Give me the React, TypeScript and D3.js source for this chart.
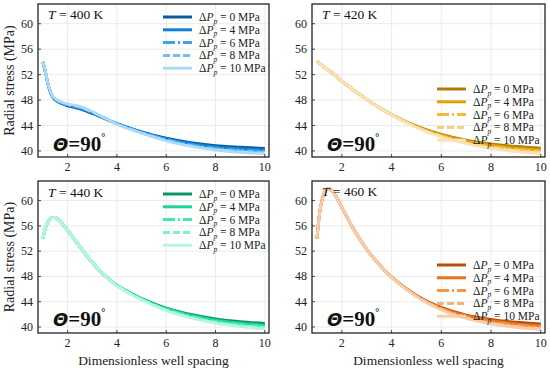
import React from "react";
import * as d3 from "d3";

// x positions shared by every series
const xs = [1, 1.1, 1.2, 1.35, 1.5, 1.75, 2, 2.5, 3, 3.5, 4, 5, 6, 7, 8, 9, 10];

const pressures = ["0", "4", "6", "8", "10"];
const yTicks = [40, 44, 48, 52, 56, 60];
const xTicks = [2, 4, 6, 8, 10];

// T = 400 K
const t400p0 = [54.0, 52.4, 50.6, 48.8, 48.0, 47.45, 47.1, 46.6, 45.9, 45.1, 44.3, 43.0, 42.0, 41.3, 40.85, 40.6, 40.4];
const t400p4 = [54.0, 52.4, 50.6, 48.8, 48.05, 47.5, 47.2, 46.7, 46.0, 45.1, 44.3, 42.95, 41.9, 41.15, 40.65, 40.35, 40.15];
const t400p6 = [54.0, 52.4, 50.6, 48.85, 48.1, 47.55, 47.25, 46.8, 46.05, 45.15, 44.3, 42.9, 41.8, 41.0, 40.45, 40.15, 39.95];
const t400p8 = [54.0, 52.5, 50.7, 48.9, 48.15, 47.65, 47.3, 46.9, 46.1, 45.2, 44.25, 42.85, 41.7, 40.85, 40.3, 40.0, 39.8];
const t400p10 = [54.0, 52.5, 50.7, 48.95, 48.2, 47.7, 47.4, 47.0, 46.2, 45.2, 44.2, 42.8, 41.6, 40.75, 40.15, 39.8, 39.6];

// T = 420 K
const t420p0 = [54.1, 53.8, 53.5, 53.0, 52.6, 51.8, 50.95, 49.5, 48.1, 46.85, 45.7, 43.9, 42.6, 41.7, 41.1, 40.7, 40.45];
const t420p4 = [54.1, 53.8, 53.5, 53.0, 52.6, 51.8, 50.95, 49.5, 48.1, 46.85, 45.7, 43.85, 42.5, 41.55, 40.9, 40.45, 40.15];
const t420p6 = [54.1, 53.8, 53.5, 53.0, 52.6, 51.8, 50.95, 49.5, 48.1, 46.85, 45.7, 43.8, 42.4, 41.4, 40.7, 40.25, 39.95];
const t420p8 = [54.1, 53.8, 53.5, 53.0, 52.6, 51.8, 50.95, 49.5, 48.1, 46.85, 45.65, 43.75, 42.3, 41.25, 40.55, 40.1, 39.8];
const t420p10 = [54.1, 53.8, 53.5, 53.0, 52.6, 51.8, 50.95, 49.5, 48.1, 46.85, 45.65, 43.7, 42.2, 41.15, 40.4, 39.9, 39.6];

// T = 440 K
const t440p0 = [54.0, 55.6, 56.6, 57.3, 57.3, 56.5, 55.3, 52.7, 50.2, 48.2, 46.6, 44.5, 43.0, 42.0, 41.3, 40.85, 40.55];
const t440p4 = [54.0, 55.6, 56.6, 57.3, 57.3, 56.5, 55.3, 52.7, 50.2, 48.2, 46.6, 44.45, 42.9, 41.85, 41.1, 40.6, 40.25];
const t440p6 = [54.0, 55.6, 56.6, 57.3, 57.3, 56.5, 55.3, 52.7, 50.2, 48.2, 46.6, 44.4, 42.8, 41.7, 40.9, 40.4, 40.05];
const t440p8 = [54.0, 55.6, 56.6, 57.3, 57.3, 56.5, 55.3, 52.7, 50.2, 48.2, 46.55, 44.35, 42.7, 41.55, 40.75, 40.2, 39.9];
const t440p10 = [54.0, 55.6, 56.6, 57.3, 57.3, 56.5, 55.3, 52.7, 50.2, 48.2, 46.55, 44.3, 42.6, 41.45, 40.6, 40.05, 39.7];

// T = 460 K
const t460p0 = [54.0, 57.8, 60.0, 61.6, 61.9, 60.8, 58.9, 55.3, 52.3, 49.9, 47.9, 45.0, 43.1, 41.9, 41.2, 40.75, 40.5];
const t460p4 = [54.0, 57.8, 60.0, 61.6, 61.9, 60.8, 58.9, 55.3, 52.3, 49.9, 47.9, 44.95, 43.0, 41.75, 41.0, 40.5, 40.2];
const t460p6 = [54.0, 57.8, 60.0, 61.6, 61.9, 60.8, 58.9, 55.3, 52.3, 49.9, 47.9, 44.9, 42.9, 41.6, 40.8, 40.3, 40.0];
const t460p8 = [54.0, 57.8, 60.0, 61.6, 61.9, 60.8, 58.9, 55.3, 52.3, 49.9, 47.85, 44.85, 42.8, 41.45, 40.65, 40.1, 39.8];
const t460p10 = [54.0, 57.8, 60.0, 61.6, 61.9, 60.8, 58.9, 55.3, 52.3, 49.9, 47.85, 44.8, 42.7, 41.35, 40.5, 39.95, 39.6];

const blues = ["#0b5c9e", "#0f80d8", "#3ca2ea", "#72c0f2", "#aedaf6"];
const golds = ["#b07c06", "#e2a200", "#f2bd3a", "#f6d080", "#f8e2b6"];
const greens = ["#0b9466", "#1cd596", "#44e8b2", "#80f0cc", "#b6f6e0"];
const oranges = ["#b4500c", "#e8731c", "#f2964c", "#f5b27e", "#f8cdaa"];

const dashes = ["none", "none", "12,3,2,3", "7,3", "none"];

const panels = [
  { temp: "400", left: 38, top: 4, width: 231, height: 153, colors: blues, series: [t400p0, t400p4, t400p6, t400p8, t400p10], legendX: 163, legendY: 17, tY: 19, thetaY: 151, xTitle: false },
  { temp: "420", left: 312, top: 4, width: 233, height: 153, colors: golds, series: [t420p0, t420p4, t420p6, t420p8, t420p10], legendX: 437, legendY: 89, tY: 19, thetaY: 151, xTitle: false },
  { temp: "440", left: 38, top: 181, width: 231, height: 152, colors: greens, series: [t440p0, t440p4, t440p6, t440p8, t440p10], legendX: 163, legendY: 194, tY: 197, thetaY: 326, xTitle: true },
  { temp: "460", left: 312, top: 181, width: 233, height: 152, colors: oranges, series: [t460p0, t460p4, t460p6, t460p8, t460p10], legendX: 437, legendY: 265, tY: 196, thetaY: 326, xTitle: true },
];

const serif = "'Liberation Serif', Tinos, 'Times New Roman', Times, 'DejaVu Serif', serif";

function Panel({ p }: { p: typeof panels[number] }) {
  const x = d3.scaleLinear().domain([0.8, 10.17]).range([p.left, p.left + p.width]);
  const y = d3.scaleLinear().domain([39.05, 63.1]).range([p.top + p.height, p.top]);
  const line = d3.line<number>()
    .x((_, i) => x(xs[i]))
    .y((d) => y(d))
    .curve(d3.curveCatmullRom.alpha(0.5));
  const bottom = p.top + p.height;
  const right = p.left + p.width;
  const ff = { fontFamily: serif };
  return (
    <g>
      <defs>
        <clipPath id={`clip${p.temp}`}>
          <rect x={p.left} y={p.top} width={p.width} height={p.height} />
        </clipPath>
      </defs>
      <rect x={p.left} y={p.top} width={p.width} height={p.height} fill="white" />
      {/* grid */}
      {xTicks.map((t) => (
        <line key={"gx" + t} x1={x(t)} x2={x(t)} y1={p.top} y2={bottom} stroke="#e6e6e6" strokeWidth={0.8} />
      ))}
      {yTicks.map((t) => (
        <line key={"gy" + t} x1={p.left} x2={right} y1={y(t)} y2={y(t)} stroke="#e6e6e6" strokeWidth={0.8} />
      ))}
      {/* curves */}
      <g clipPath={`url(#clip${p.temp})`}>
        {p.series.map((s, i) => (
          <path key={i} d={line(s) || ""} fill="none" stroke={p.colors[i]} strokeWidth={2.8}
            strokeDasharray={dashes[i]} />
        ))}
      </g>
      {/* ticks */}
      {xTicks.map((t) => (
        <g key={"tx" + t}>
          <line x1={x(t)} x2={x(t)} y1={bottom} y2={bottom - 3} stroke="#222" strokeWidth={0.8} />
          <text x={x(t)} y={bottom + 14} textAnchor="middle" style={ff} fontSize={12} fill="#222">{t}</text>
        </g>
      ))}
      {yTicks.map((t) => (
        <g key={"ty" + t}>
          <line x1={p.left} x2={p.left + 3} y1={y(t)} y2={y(t)} stroke="#222" strokeWidth={0.8} />
          <text x={p.left - 5} y={y(t) + 4} textAnchor="end" style={ff} fontSize={12} fill="#222">{t}</text>
        </g>
      ))}
      <rect x={p.left} y={p.top} width={p.width} height={p.height} fill="none" stroke="#222" strokeWidth={1.3} />
      {/* temperature label */}
      <text x={p.left + 10} y={p.tY} style={ff} fontSize={13.5} fill="#111">
        <tspan fontStyle="italic">T</tspan> = {p.temp} K
      </text>
      {/* theta label */}
      <text x={p.left + 15} y={p.thetaY} style={ff} fontSize={21} fontWeight="bold" fill="#111">
        <tspan style={{ fontFamily: "'DejaVu Sans', sans-serif" }} fontStyle="italic" fontSize={18}>Θ</tspan>=90
        <tspan fontSize={10} dy={-10}>°</tspan>
      </text>
      {/* legend */}
      {pressures.map((pr, i) => {
        const ly = p.legendY + i * 12.8;
        return (
          <g key={"lg" + pr}>
            <line x1={p.legendX} x2={p.legendX + 29} y1={ly} y2={ly} stroke={p.colors[i]} strokeWidth={3}
              strokeDasharray={dashes[i]} />
            <text x={p.legendX + 36} y={ly + 4} style={ff} fontSize={11.5} fill="#222">
              Δ<tspan fontStyle="italic">P</tspan>
              <tspan fontStyle="italic" fontSize={7.5} dy={2.5}>p</tspan>
              <tspan dy={-2.5}> = {pr} MPa</tspan>
            </text>
          </g>
        );
      })}
      {p.xTitle && (
        <text x={p.left + p.width / 2} y={bottom + 32} textAnchor="middle" style={ff} fontSize={13.5} fill="#222">
          Dimensionless well spacing
        </text>
      )}
      {p.left < 100 && (
        <text transform={`translate(14,${p.top + p.height / 2}) rotate(-90)`} textAnchor="middle"
          style={ff} fontSize={14} fill="#222">
          Radial stress (MPa)
        </text>
      )}
    </g>
  );
}

export default function App() {
  return (
    <svg width={550} height={371} style={{ position: "absolute", left: 0, top: 0, background: "white" }}>
      <rect width={550} height={371} fill="white" />
      {panels.map((p) => (
        <Panel key={p.temp} p={p} />
      ))}
    </svg>
  );
}
